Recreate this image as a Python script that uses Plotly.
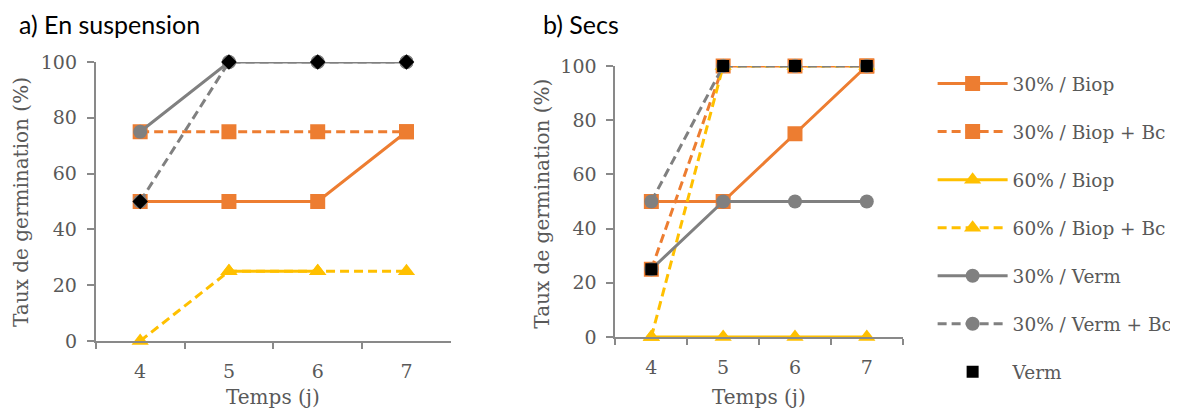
import plotly.graph_objects as go

# page has an 8px body margin: figure drawn 8px right/down inside the window
OFF = 8
W, H = 1178 - OFF, 412 - OFF

days = ["4", "5", "6", "7"]
series_names = ["30% / Biop", "30% / Biop + Bc", "60% / Biop", "60% / Biop + Bc",
                "30% / Verm", "30% / Verm + Bc", "Verm"]

# Panel a) En suspension
a_30_biop = [50, 50, 50, 75]
a_30_biop_bc = [75, 75, 75, 75]
a_60_biop = [None, 25, 25, None]
a_60_biop_bc = [0, 25, 25, 25]
a_30_verm = [75, 100, 100, 100]
a_30_verm_bc = [50, 100, 100, 100]
a_verm = [50, 100, 100, 100]

# Panel b) Secs
b_30_biop = [50, 50, 75, 100]
b_30_biop_bc = [25, 100, 100, 100]
b_60_biop = [0, 0, 0, 0]
b_60_biop_bc = [0, 100, 100, 100]
b_30_verm = [25, 50, 50, 50]
b_30_verm_bc = [50, 100, 100, 100]
b_verm = [25, 100, 100, 100]

y_ticks = [0, 20, 40, 60, 80, 100]

ORANGE = "#ED7D31"
YELLOW = "#FFC000"
GRAY = "#808080"
TXT = "#595959"
AXC = "#898989"
DASH = "9px,5px"
SERIF = "DejaVu Serif"

styles = [
    dict(color=ORANGE, dash="solid", symbol="square", size=15),
    dict(color=ORANGE, dash=DASH, symbol="square", size=15),
    dict(color=YELLOW, dash="solid", symbol="triangle-up", size=15),
    dict(color=YELLOW, dash=DASH, symbol="triangle-up", size=15),
    dict(color=GRAY, dash="solid", symbol="circle", size=14),
    dict(color=GRAY, dash=DASH, symbol="circle", size=14),
]

fig = go.Figure()

a_data = [a_30_biop, a_30_biop_bc, a_60_biop, a_60_biop_bc, a_30_verm, a_30_verm_bc]
b_data = [b_30_biop, b_30_biop_bc, b_60_biop, b_60_biop_bc, b_30_verm, b_30_verm_bc]

for i, (name, st, ya) in enumerate(zip(series_names[:6], styles, a_data)):
    fig.add_trace(go.Scatter(
        x=days, y=ya, name=name, legendgroup=f"g{i}", showlegend=False,
        mode="lines+markers", xaxis="x", yaxis="y", cliponaxis=False,
        line=dict(color=st["color"], width=3, dash=st["dash"]),
        marker=dict(symbol=st["symbol"], size=st["size"], color=st["color"]),
    ))
fig.add_trace(go.Scatter(
    x=days, y=a_verm, name="Verm", legendgroup="g6", showlegend=False,
    mode="markers", xaxis="x", yaxis="y", cliponaxis=False,
    marker=dict(symbol="diamond", size=12, color="black"),
))

for i, (name, st, yb) in enumerate(zip(series_names[:6], styles, b_data)):
    fig.add_trace(go.Scatter(
        x=days, y=yb, name=name, legendgroup=f"g{i}", showlegend=True,
        mode="lines+markers", xaxis="x2", yaxis="y2", cliponaxis=False,
        line=dict(color=st["color"], width=3, dash=st["dash"]),
        marker=dict(symbol=st["symbol"], size=st["size"], color=st["color"]),
    ))
fig.add_trace(go.Scatter(
    x=days, y=b_verm, name="Verm", legendgroup="g6", showlegend=True,
    mode="markers", xaxis="x2", yaxis="y2", cliponaxis=False,
    marker=dict(symbol="square", size=12, color="black"),
))

def px_x(p):
    return (p - OFF) / W

def px_y(p):
    return 1 - (p - OFF) / H

xaxis_common = dict(
    type="category", range=[-0.5, 3.5], tickson="boundaries", ticks="outside", ticklen=6,
    tickwidth=2, tickcolor=AXC, showline=True, linecolor=AXC, linewidth=2,
    showgrid=False, zeroline=False, fixedrange=True, automargin=False,
    ticklabelstandoff=12,
    tickfont=dict(family=SERIF, size=19, color=TXT),
)
yaxis_common = dict(
    range=[0, 100], tickvals=y_ticks, ticks="outside", ticklen=7, tickwidth=2,
    tickcolor=AXC, showline=True, linecolor=AXC, linewidth=2, showgrid=False,
    zeroline=False, fixedrange=True, ticklabelstandoff=6, automargin=False,
    tickfont=dict(family=SERIF, size=19, color=TXT),
)

fig.update_layout(
    width=W, height=H,
    margin=dict(l=0, r=0, t=0, b=0),
    paper_bgcolor="white", plot_bgcolor="white",
    xaxis=dict(domain=[px_x(96), px_x(452)], anchor="y", **xaxis_common),
    yaxis=dict(domain=[px_y(341), px_y(62)], anchor="x", **yaxis_common),
    xaxis2=dict(domain=[px_x(617), px_x(905)], anchor="y2", **xaxis_common),
    yaxis2=dict(domain=[px_y(337), px_y(66)], anchor="x2", **yaxis_common),
    legend=dict(
        x=px_x(935), y=px_y(65), xanchor="left", yanchor="top",
        font=dict(family=SERIF, size=18.5, color=TXT),
        itemwidth=70, traceorder="grouped", tracegroupgap=21,
        bgcolor="rgba(0,0,0,0)",
    ),
    showlegend=True,
)

annotations = [
    dict(text="a) En suspension", x=px_x(17), y=px_y(24), xanchor="left", yanchor="middle",
         font=dict(family="Lato", size=25, color="black")),
    dict(text="b) Secs", x=px_x(542), y=px_y(24), xanchor="left", yanchor="middle",
         font=dict(family="Lato", size=25, color="black")),
    dict(text="Temps (j)", x=px_x(274), y=px_y(397), xanchor="center", yanchor="middle",
         font=dict(family=SERIF, size=20, color=TXT)),
    dict(text="Temps (j)", x=px_x(761), y=px_y(397), xanchor="center", yanchor="middle",
         font=dict(family=SERIF, size=20, color=TXT)),
    dict(text="Taux de germination (%)", x=px_x(21), y=px_y(202), textangle=-90,
         xanchor="center", yanchor="middle", font=dict(family=SERIF, size=20, color=TXT)),
    dict(text="Taux de germination (%)", x=px_x(543), y=px_y(204), textangle=-90,
         xanchor="center", yanchor="middle", font=dict(family=SERIF, size=20, color=TXT)),
]
for a in annotations:
    a.update(xref="paper", yref="paper", showarrow=False)
fig.update_layout(annotations=annotations)

fig.write_html("out.html")
